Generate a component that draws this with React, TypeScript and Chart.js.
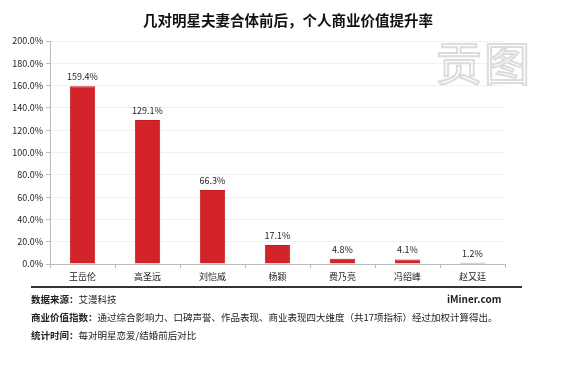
import React, { useEffect, useRef } from "react";
import { Chart, registerables } from "chart.js";

Chart.register(...registerables);

const categories = ["王岳伦", "高圣远", "刘恺威", "杨颖", "费乃亮", "冯绍峰", "赵又廷"];
const values = [159.4, 129.1, 66.3, 17.1, 4.8, 4.1, 1.2];
const yTicks = [0, 20, 40, 60, 80, 100, 120, 140, 160, 180, 200];

const title = "几对明星夫妻合体前后，个人商业价值提升率";
const source = ["数据来源：", "艾漫科技"];
const site = "iMiner.com";
const note1 = ["商业价值指数：", "通过综合影响力、口碑声誉、作品表现、商业表现四大维度（共17项指标）经过加权计算得出。"];
const note2 = ["统计时间：", "每对明星恋爱/结婚前后对比"];

const FONT = "'Noto Sans CJK SC', 'Noto Sans', sans-serif";

const labelPlugin = {
  id: "barLabels",
  afterDatasetsDraw(chart: any) {
    const ctx = chart.ctx;
    const meta = chart.getDatasetMeta(0);
    ctx.save();
    ctx.font = `9px ${FONT}`;
    ctx.fillStyle = "#222";
    ctx.textAlign = "center";
    ctx.textBaseline = "bottom";
    meta.data.forEach((bar: any, i: number) => {
      ctx.fillText(values[i].toFixed(1) + "%", bar.x, bar.y - 5);
    });
    ctx.restore();
  },
};

export default function App() {
  const ref = useRef<HTMLCanvasElement>(null);
  useEffect(() => {
    const chart = new Chart(ref.current!, {
      type: "bar",
      data: {
        labels: categories,
        datasets: [
          {
            data: values,
            backgroundColor: "#d3232a",
            borderColor: "#c41a20",
            borderWidth: 1,
            categoryPercentage: 1,
            barPercentage: 0.39,
          },
        ],
      },
      options: {
        responsive: false,
        animation: false,
        layout: { padding: { left: 0, right: 65, top: 41, bottom: 0 } },
        plugins: { legend: { display: false }, tooltip: { enabled: false } },
        scales: {
          x: {
            afterFit(scale: any) {
              scale.height = 104;
            },
            grid: {
              offset: true,
              drawOnChartArea: false,
              drawTicks: true,
              tickLength: 4,
              tickColor: "#bbb",
            },
            border: { color: "#bbb" },
            ticks: { color: "#222", font: { size: 9, family: FONT }, padding: 3 },
          },
          y: {
            min: 0,
            max: 200,
            afterFit(scale: any) {
              scale.width = 50;
            },
            afterBuildTicks(scale: any) {
              scale.ticks = yTicks.map((v) => ({ value: v }));
            },
            grid: { color: "#f0f0f0", tickColor: "#bbb", tickLength: 4 },
            border: { color: "#bbb" },
            ticks: {
              color: "#222",
              font: { size: 9, family: FONT },
              padding: 3,
              callback: (v: any) => Number(v).toFixed(1) + "%",
            },
          },
        },
      },
      plugins: [labelPlugin],
    });
    return () => chart.destroy();
  }, []);

  const text = (top: number, parts: string[], extra?: any) => (
    <div
      style={{
        position: "absolute",
        left: 31,
        top: top - 7,
        fontSize: 9.5,
        lineHeight: "14px",
        color: "#222",
        whiteSpace: "nowrap",
        fontFamily: FONT,
        ...extra,
      }}
    >
      <b>{parts[0]}</b>
      <span>{parts[1]}</span>
    </div>
  );

  return (
    <div style={{ position: "absolute", left: 0, top: 0, width: 570, height: 368, background: "#fff", overflow: "hidden" }}>
      <canvas ref={ref} width={570} height={368} style={{ position: "absolute", left: 0, top: 0 }} />
      <div
        style={{
          position: "absolute",
          left: 0,
          width: 576,
          top: 9,
          textAlign: "center",
          fontFamily: FONT,
          fontWeight: "bold",
          fontSize: 14.5,
          lineHeight: "22px",
          color: "#111",
          whiteSpace: "nowrap",
        }}
      >
        {title}
      </div>
      <div
        style={{
          position: "absolute",
          left: 436,
          top: 34,
          fontFamily: FONT,
          fontSize: 46,
          lineHeight: "52px",
          color: "transparent",
          WebkitTextStroke: "2px #dcdcdc",
          letterSpacing: 2,
          whiteSpace: "nowrap",
        } as any}
      >
        贡图
      </div>
      <div style={{ position: "absolute", left: 31, top: 286, width: 491, height: 2, background: "#333" }} />
      {text(299, source)}
      <div
        style={{
          position: "absolute",
          left: 447,
          top: 292,
          fontSize: 10,
          lineHeight: "14px",
          fontWeight: "bold",
          color: "#222",
          fontFamily: FONT,
        }}
      >
        {site}
      </div>
      {text(317, note1)}
      {text(335, note2)}
    </div>
  );
}
